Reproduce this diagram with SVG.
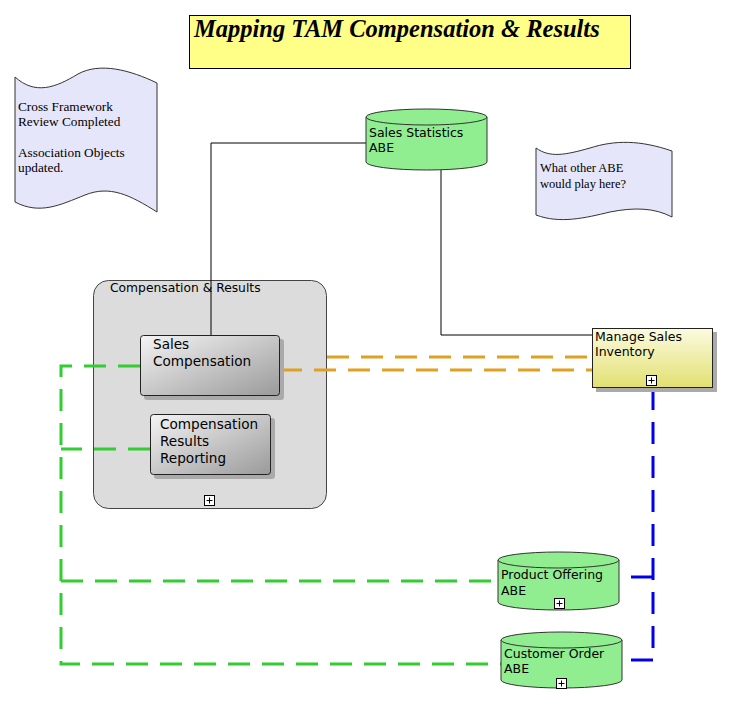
<svg xmlns="http://www.w3.org/2000/svg" width="731" height="706" viewBox="0 0 731 706">
<defs>
<linearGradient id="gGrey" x1="0" y1="0" x2="1" y2="1">
<stop offset="0" stop-color="#f4f4f4"/>
<stop offset="1" stop-color="#9a9a9a"/>
</linearGradient>
<linearGradient id="gYel" x1="0" y1="0" x2="0" y2="1">
<stop offset="0" stop-color="#fbfbe0"/>
<stop offset="1" stop-color="#e2e070"/>
</linearGradient>
<g id="plus">
<rect x="-5" y="-5" width="10" height="10" fill="#fff" stroke="#000" stroke-width="1"/>
<path d="M-3,0H3M0,-3V3" stroke="#000" stroke-width="1"/>
</g>
</defs>
<style>
.sans{font-family:"DejaVu Sans","Liberation Sans",Arial,sans-serif;fill:#000}
.serif{font-family:"Liberation Serif","Times New Roman",serif;fill:#000}
.note{fill:#e6e6fa;stroke:#333;stroke-width:1}
.cyl{fill:#90ee90;stroke:#333;stroke-width:1}
.shadow{fill:#aaa}
.green{stroke:#33cc33;stroke-width:3;fill:none;stroke-dasharray:22 12}
.orange{stroke:#e0a020;stroke-width:3;fill:none;stroke-dasharray:22 12}
.blue{stroke:#0000ee;stroke-width:3;fill:none;stroke-dasharray:22 12}
.solid{stroke:#000;stroke-width:1;fill:none}
</style>

<g id="title">
<rect x="189.5" y="15.5" width="441" height="53" fill="#ffff88" stroke="#000"/>
<text x="194" y="37" class="serif" font-size="24.5" font-weight="bold" font-style="italic">Mapping TAM Compensation &amp; Results</text>
</g>

<g id="note1">
<path class="note" d="M15,77 C35,95 55,88 78,74 C100,62 130,70 157,83 L157,212 C130,195 110,185 85,195 C60,205 40,215 15,202 Z"/>
<text class="serif" font-size="13.3"><tspan x="18" y="111">Cross Framework</tspan><tspan x="18" y="126">Review Completed</tspan><tspan x="18" y="157">Association Objects</tspan><tspan x="18" y="172">updated.</tspan></text>
</g>

<g id="note2">
<path class="note" d="M536,148 C550,158 565,155 590,148 C615,140 640,140 672,151 L672,217 C655,208 635,207 610,212 C585,218 560,224 536,215 Z"/>
<text class="serif" font-size="12.5"><tspan x="540" y="172">What other ABE</tspan><tspan x="540" y="188">would play here?</tspan></text>
</g>

<g id="compensation-results">
<rect x="93.5" y="280.5" width="233" height="228" rx="15" fill="#dcdcdc" stroke="#444"/>
<text x="110" y="292" class="sans" font-size="12.3">Compensation &amp; Results</text>
<use href="#plus" x="209.5" y="500.5"/>
</g>

<g id="connectors">
<path class="solid" d="M211,335 V143 H366"/>
<path class="solid" d="M441,170 V335 H592" stroke="#444"/>
<path class="orange" d="M280,370 H592"/>
<path class="orange" d="M327,357 H592"/>
<path class="green" d="M140,366 H61 V664 H501"/>
<path class="green" d="M150,449 H61"/>
<path class="green" d="M61,581 H498"/>
<path class="blue" d="M653,388 V660 H622"/>
<path class="blue" d="M653,577 H620"/>
</g>

<g id="sales-statistics">
<path class="cyl" d="M366,117 V162 A60.5,8 0 0 0 487,162 V117"/>
<ellipse class="cyl" cx="426.5" cy="117" rx="60.5" ry="8"/>
<text class="sans" font-size="12.5"><tspan x="369" y="137">Sales Statistics</tspan><tspan x="369" y="152">ABE</tspan></text>
</g>

<g id="sales-compensation">
<rect class="shadow" x="144" y="339" width="140" height="61" rx="3"/>
<rect x="140.5" y="335.5" width="139" height="60" rx="3" fill="url(#gGrey)" stroke="#222"/>
<text class="sans" font-size="13.6"><tspan x="153" y="349">Sales</tspan><tspan x="153" y="366">Compensation</tspan></text>
</g>

<g id="compensation-results-reporting">
<rect class="shadow" x="154" y="418" width="121" height="61" rx="3"/>
<rect x="150.5" y="414.5" width="120" height="60" rx="3" fill="url(#gGrey)" stroke="#222"/>
<text class="sans" font-size="13.6"><tspan x="160" y="429">Compensation</tspan><tspan x="160" y="446">Results</tspan><tspan x="160" y="463">Reporting</tspan></text>
</g>

<g id="manage-sales-inventory">
<rect class="shadow" x="596" y="332" width="121" height="60"/>
<rect x="592.5" y="328.5" width="120" height="59" fill="url(#gYel)" stroke="#222"/>
<text class="sans" font-size="12.5"><tspan x="595" y="341">Manage Sales</tspan><tspan x="595" y="356">Inventory</tspan></text>
<use href="#plus" x="651.5" y="380.5"/>
</g>

<g id="product-offering">
<path class="cyl" d="M498,560 V602 A60.5,8 0 0 0 619,602 V560"/>
<ellipse class="cyl" cx="558.5" cy="560" rx="60.5" ry="8"/>
<text class="sans" font-size="12.5"><tspan x="501" y="579">Product Offering</tspan><tspan x="501" y="595">ABE</tspan></text>
<use href="#plus" x="559.5" y="603.5"/>
</g>

<g id="customer-order">
<path class="cyl" d="M501,640 V680 A60.5,8 0 0 0 622,680 V640"/>
<ellipse class="cyl" cx="561.5" cy="640" rx="60.5" ry="8"/>
<text class="sans" font-size="12.5"><tspan x="504" y="658">Customer Order</tspan><tspan x="504" y="673">ABE</tspan></text>
<use href="#plus" x="561.5" y="683.5"/>
</g>
</svg>
